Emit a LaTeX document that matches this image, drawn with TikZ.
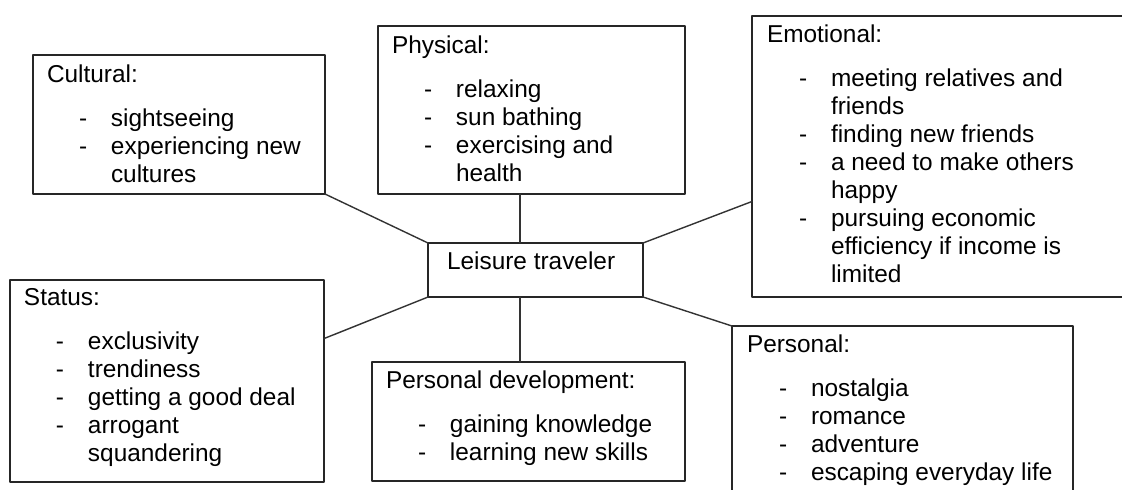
\documentclass[tikz,border=0pt]{standalone}
\usepackage{fontspec}
\setmainfont{Liberation Sans}
\usetikzlibrary{calc}
\tikzset{
  box/.style={draw=black!85, line width=0.8pt, anchor=north west, inner sep=0pt, outer sep=0pt},
  txt/.style={anchor=base west, inner sep=0pt, outer sep=0pt},
  link/.style={draw=black!80, line width=0.7pt}
}
\newcommand{\boxlist}[2]{\begin{tabular}[t]{@{\hspace{16pt}}p{16pt}@{}l@{}}\multicolumn{2}{@{}l@{}}{#1}\\[8pt]#2\end{tabular}}
\begin{document}
\begin{tikzpicture}[x=0.5pt, y=-0.5pt, font=\fontsize{12.2}{14}\selectfont, line join=round, line cap=round]
			\useasboundingbox (0,0) rectangle (1122,489);
			\clip (0,0) rectangle (1122,489);
			% boxes
			\node[box, minimum width=146pt, minimum height=69.5pt] (cult) at (33,55) {};
			\node[box, minimum width=153.5pt, minimum height=84pt] (phys) at (378,26) {};
			\node[box, minimum width=190pt, minimum height=140.5pt] (emo) at (752,16) {};
			\node[box, minimum width=107.5pt, minimum height=27pt] (leis) at (428,243) {};
			\node[box, minimum width=157pt, minimum height=101pt] (stat) at (10,280) {};
			\node[box, minimum width=156.5pt, minimum height=59.5pt] (pdev) at (372,362) {};
			\node[box, minimum width=170.5pt, minimum height=90pt] (pers) at (732,326) {};
			% texts
			\node[txt] (leisT) at ([shift={(9.5pt,-13pt)}]leis.north west) {Leisure traveler};
			\node[txt] (cultT) at ([shift={(7pt,-13.5pt)}]cult.north west) {\boxlist{Cultural:}{- & sightseeing\\ - & experiencing new\\ & cultures}};
			\node[txt] (physT) at ([shift={(7pt,-13.5pt)}]phys.north west) {\boxlist{Physical:}{- & relaxing\\ - & sun bathing\\ - & exercising and\\ & health}};
			\node[txt] (emoT) at ([shift={(7.5pt,-13pt)}]emo.north west) {\boxlist{Emotional:}{- & meeting relatives and\\ & friends\\ - & finding new friends\\ - & a need to make others\\ & happy\\ - & pursuing economic\\ & efficiency if income is\\ & limited}};
			\node[txt] (statT) at ([shift={(7pt,-12.5pt)}]stat.north west) {\boxlist{Status:}{- & exclusivity\\ - & trendiness\\ - & getting a good deal\\ - & arrogant\\ & squandering}};
			\node[txt] (pdevT) at ([shift={(7pt,-13pt)}]pdev.north west) {\boxlist{Personal development:}{- & gaining knowledge\\ - & learning new skills}};
			\node[txt] (persT) at ([shift={(7.5pt,-13pt)}]pers.north west) {\boxlist{Personal:}{- & nostalgia\\ - & romance\\ - & adventure\\ - & escaping everyday life}};
			% connectors
			\coordinate (mid) at (520,0);
			\foreach \a/\b in {cult.south east/leis.north west, leis.south east/pers.north west}{\draw[link] (\a)--(\b);}
			\draw[link] (phys.south -| mid) -- (leis.north -| mid);
			\draw[link] (leis.south -| mid) -- (pdev.north -| mid);
			\draw[link] (leis.north east) -- ($(emo.north west)!0.66!(emo.south west)$);
			\draw[link] ($(stat.north east)!0.29!(stat.south east)$) -- (leis.south west);
	\end{tikzpicture}
\end{document}
